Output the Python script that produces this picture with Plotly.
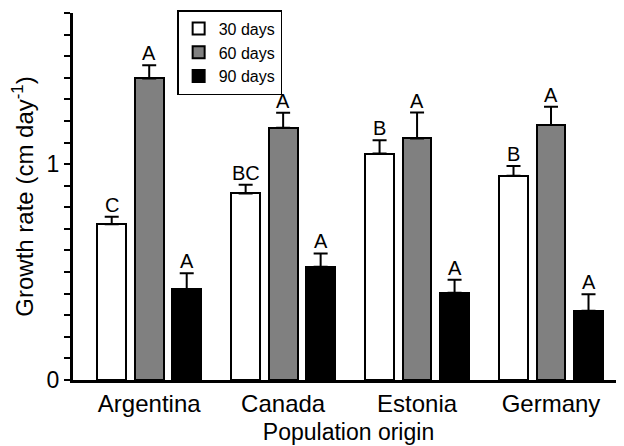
import plotly.graph_objects as go

countries = ["Argentina", "Canada", "Estonia", "Germany"]
series_names = ["30 days", "60 days", "90 days"]
means = {
    "30 days": [0.722, 0.864, 1.049, 0.946],
    "60 days": [1.397, 1.168, 1.119, 1.181],
    "90 days": [0.420, 0.525, 0.404, 0.321],
}
errors = {
    "30 days": [0.034, 0.040, 0.062, 0.045],
    "60 days": [0.061, 0.070, 0.120, 0.085],
    "90 days": [0.074, 0.061, 0.060, 0.076],
}
letters = {
    "30 days": ["C", "BC", "B", "B"],
    "60 days": ["A", "A", "A", "A"],
    "90 days": ["A", "A", "A", "A"],
}
colors = {"30 days": "white", "60 days": "#808080", "90 days": "black"}
y_major = [0, 1]
y_minor = [round(0.1 * i, 1) for i in range(18)]

slot = 0.28
bar_w = 0.215
FONT = "Arial, Liberation Sans, sans-serif"

fig = go.Figure()
annotations = []
for k, name in enumerate(series_names):
    off = (k - 1) * slot
    xs = [i + off for i in range(len(countries))]
    fig.add_trace(go.Bar(
        x=xs, y=means[name], width=bar_w, name=name,
        marker=dict(color=colors[name], line=dict(color="black", width=2)),
        error_y=dict(type="data", array=errors[name], arrayminus=[0] * len(countries),
                     symmetric=False, color="black", thickness=2, width=7),
    ))
    for x, m, e, t in zip(xs, means[name], errors[name], letters[name]):
        annotations.append(dict(x=x, y=m + e, text=t, showarrow=False, xref="x", yref="y",
                                yanchor="bottom", yshift=-1,
                                font=dict(family=FONT, size=20, color="black")))

# page body has an 8px default margin, so the figure is sized 616x438
fig.update_layout(
    width=616, height=438,
    margin=dict(l=65, r=0, t=5, b=66),
    plot_bgcolor="white", paper_bgcolor="white",
    font=dict(family=FONT, color="black"),
    showlegend=True,
    legend=dict(x=0.189, y=1.008, xanchor="left", yanchor="top",
                bgcolor="white", bordercolor="black", borderwidth=1.5,
                font=dict(size=16, family=FONT), tracegroupgap=0),
    annotations=annotations,
    bargap=0,
)
fig.update_xaxes(
    range=[-0.569, 3.545], tickvals=[0, 1, 2, 3], ticktext=countries,
    showline=True, linecolor="black", linewidth=3, ticks="", showgrid=False,
    zeroline=False, tickfont=dict(size=24), automargin=False,
    title=dict(text="Population origin", font=dict(size=23), standoff=9),
)
fig.update_yaxes(
    range=[0, 1.7], tickvals=y_major, ticktext=["0", "1"],
    showline=True, linecolor="black", linewidth=3, ticks="outside", ticklen=6,
    tickwidth=2, tickcolor="black", showgrid=False, zeroline=False,
    minor=dict(tickvals=y_minor, ticks="outside", ticklen=6, tickwidth=2,
               tickcolor="black", showgrid=False),
    tickfont=dict(size=23), automargin=False,
    title=dict(text="Growth rate (cm day<sup>-1</sup>)", font=dict(size=24), standoff=12),
)

fig.write_html("out.html")
